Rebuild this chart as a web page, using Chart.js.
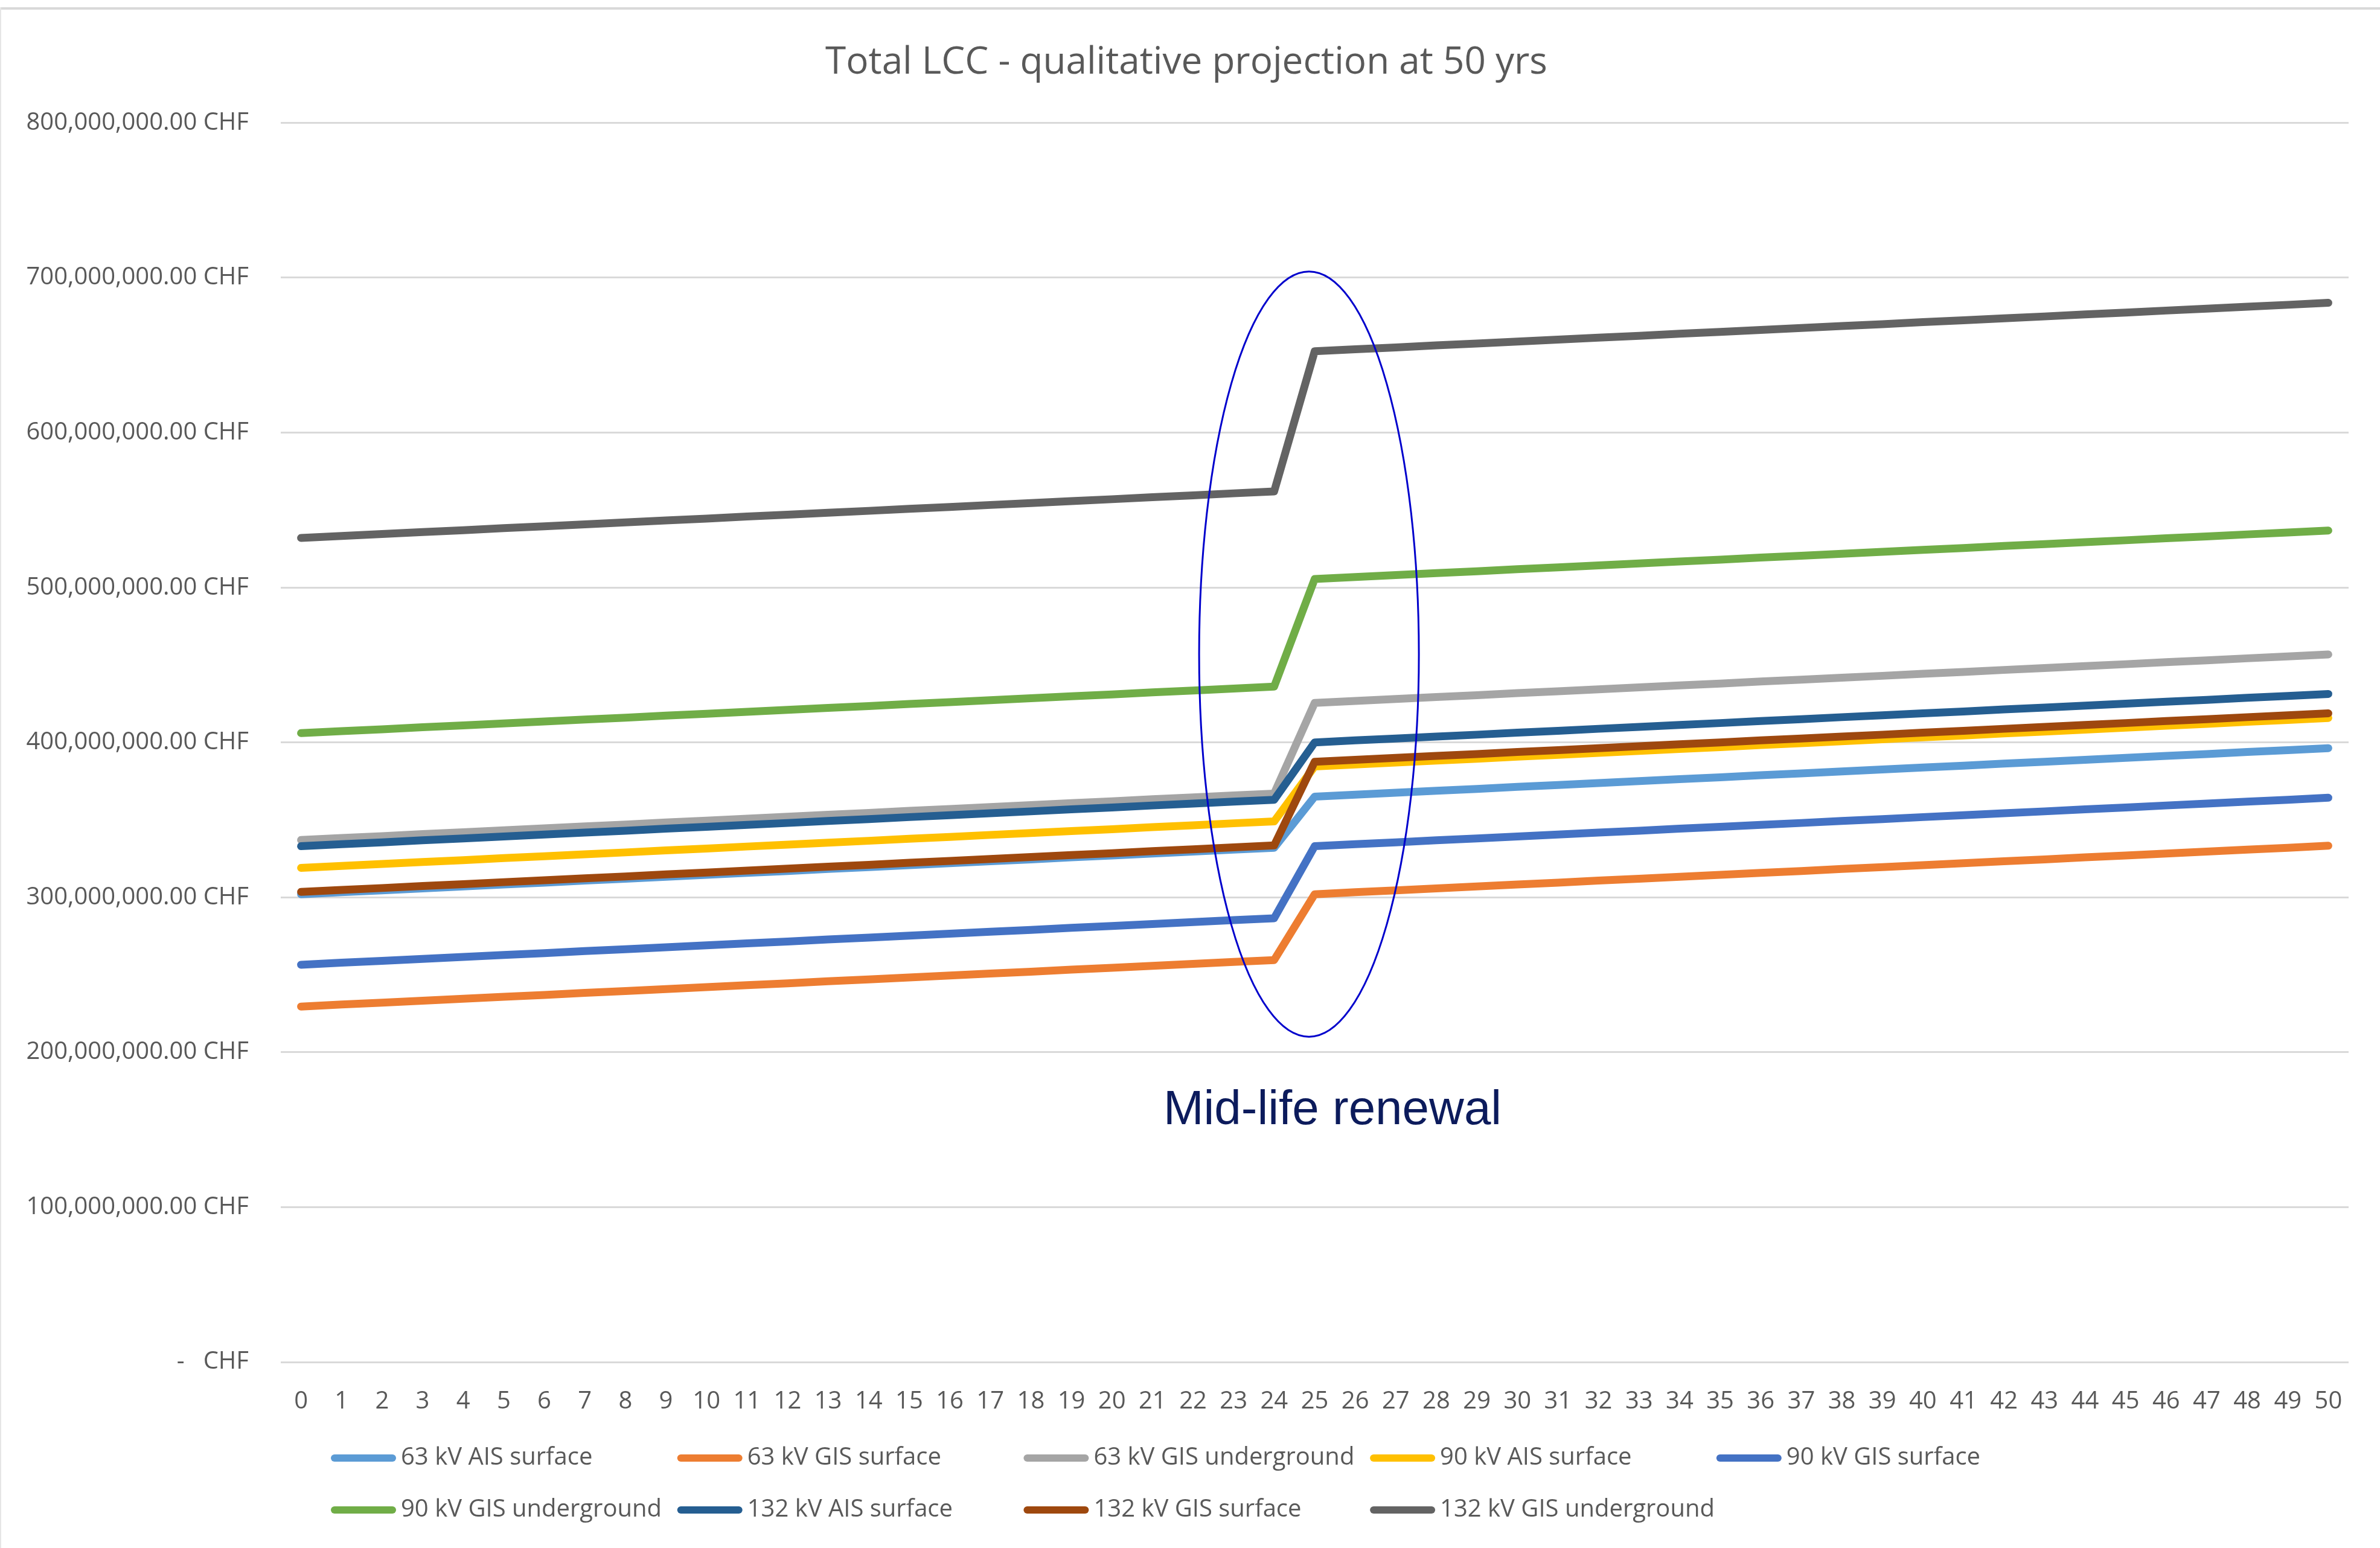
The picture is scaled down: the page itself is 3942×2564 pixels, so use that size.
<!DOCTYPE html>
<html>
<head>
<meta charset="utf-8">
<title>Total LCC - qualitative projection at 50 yrs</title>
<script src="https://cdn.jsdelivr.net/npm/chart.js@4.4.1/dist/chart.umd.min.js"></script>
<style>
  html, body { margin: 0; padding: 0; background: #ffffff; }
  #wrap { position: relative; width: 3942px; height: 2564px; }
</style>
</head>
<body>
<div id="wrap"><canvas id="lcc"></canvas></div>
<script>
// Years of operation
const years = ['0','1','2','3','4','5','6','7','8','9','10','11','12','13','14','15','16','17','18','19',
  '20','21','22','23','24','25','26','27','28','29','30','31','32','33','34','35','36','37','38','39',
  '40','41','42','43','44','45','46','47','48','49','50'];

// Y-axis labels, from 0 to 800 million CHF
const yTickLabels = ['-   CHF', '100,000,000.00 CHF', '200,000,000.00 CHF', '300,000,000.00 CHF',
  '400,000,000.00 CHF', '500,000,000.00 CHF', '600,000,000.00 CHF', '700,000,000.00 CHF', '800,000,000.00 CHF'];

const seriesNames = ['63 kV AIS surface', '63 kV GIS surface', '63 kV GIS underground', '90 kV AIS surface',
  '90 kV GIS surface', '90 kV GIS underground', '132 kV AIS surface', '132 kV GIS surface', '132 kV GIS underground'];

const seriesColors = ['#5B9BD5', '#ED7D31', '#A5A5A5', '#FFC000', '#4472C4', '#70AD47', '#255E91', '#9E480E', '#636363'];

// Cumulative life-cycle cost per year, millions of CHF
const lcc63AisSurface = [302.0, 303.3, 304.5, 305.8, 307.0, 308.3, 309.5, 310.8, 312.0, 313.3, 314.5, 315.8, 317.0,
  318.3, 319.5, 320.8, 322.0, 323.3, 324.5, 325.8, 327.0, 328.3, 329.5, 330.8, 332.0,
  365.0, 366.3, 367.5, 368.8, 370.0, 371.3, 372.5, 373.8, 375.0, 376.3, 377.5, 378.8, 380.0,
  381.3, 382.5, 383.8, 385.0, 386.3, 387.5, 388.8, 390.0, 391.3, 392.5, 393.8, 395.0, 396.3];

const lcc63GisSurface = [229.5, 230.8, 232.0, 233.3, 234.5, 235.8, 237.0, 238.3, 239.5, 240.8, 242.0, 243.3, 244.5,
  245.8, 247.0, 248.3, 249.5, 250.8, 252.0, 253.3, 254.5, 255.8, 257.0, 258.3, 259.5,
  302.0, 303.3, 304.5, 305.8, 307.0, 308.3, 309.5, 310.8, 312.0, 313.3, 314.5, 315.8, 317.0,
  318.3, 319.5, 320.8, 322.0, 323.3, 324.5, 325.8, 327.0, 328.3, 329.5, 330.8, 332.0, 333.3];

const lcc63GisUnderground = [337.0, 338.3, 339.5, 340.8, 342.0, 343.3, 344.5, 345.8, 347.0, 348.3, 349.5, 350.8, 352.0,
  353.3, 354.5, 355.8, 357.0, 358.3, 359.5, 360.8, 362.0, 363.3, 364.5, 365.8, 367.0,
  425.5, 426.8, 428.0, 429.3, 430.5, 431.8, 433.0, 434.3, 435.5, 436.8, 438.0, 439.3, 440.5,
  441.8, 443.0, 444.3, 445.5, 446.8, 448.0, 449.3, 450.5, 451.8, 453.0, 454.3, 455.5, 456.8];

const lcc90AisSurface = [319.0, 320.3, 321.5, 322.8, 324.0, 325.3, 326.5, 327.8, 329.0, 330.3, 331.5, 332.8, 334.0,
  335.3, 336.5, 337.8, 339.0, 340.3, 341.5, 342.8, 344.0, 345.3, 346.5, 347.8, 349.0,
  384.5, 385.8, 387.0, 388.3, 389.5, 390.8, 392.0, 393.3, 394.5, 395.8, 397.0, 398.3, 399.5,
  400.8, 402.0, 403.3, 404.5, 405.8, 407.0, 408.3, 409.5, 410.8, 412.0, 413.3, 414.5, 415.8];

const lcc90GisSurface = [256.5, 257.8, 259.0, 260.3, 261.5, 262.8, 264.0, 265.3, 266.5, 267.8, 269.0, 270.3, 271.5,
  272.8, 274.0, 275.3, 276.5, 277.8, 279.0, 280.3, 281.5, 282.8, 284.0, 285.3, 286.5,
  333.0, 334.3, 335.5, 336.8, 338.0, 339.3, 340.5, 341.8, 343.0, 344.3, 345.5, 346.8, 348.0,
  349.3, 350.5, 351.8, 353.0, 354.3, 355.5, 356.8, 358.0, 359.3, 360.5, 361.8, 363.0, 364.3];

const lcc90GisUnderground = [406.0, 407.3, 408.5, 409.8, 411.0, 412.3, 413.5, 414.8, 416.0, 417.3, 418.5, 419.8, 421.0,
  422.3, 423.5, 424.8, 426.0, 427.3, 428.5, 429.8, 431.0, 432.3, 433.5, 434.8, 436.0,
  505.5, 506.8, 508.0, 509.3, 510.5, 511.8, 513.0, 514.3, 515.5, 516.8, 518.0, 519.3, 520.5,
  521.8, 523.0, 524.3, 525.5, 526.8, 528.0, 529.3, 530.5, 531.8, 533.0, 534.3, 535.5, 536.8];

const lcc132AisSurface = [333.0, 334.3, 335.5, 336.8, 338.0, 339.3, 340.5, 341.8, 343.0, 344.3, 345.5, 346.8, 348.0,
  349.3, 350.5, 351.8, 353.0, 354.3, 355.5, 356.8, 358.0, 359.3, 360.5, 361.8, 363.0,
  400.0, 401.3, 402.5, 403.8, 405.0, 406.3, 407.5, 408.8, 410.0, 411.3, 412.5, 413.8, 415.0,
  416.3, 417.5, 418.8, 420.0, 421.3, 422.5, 423.8, 425.0, 426.3, 427.5, 428.8, 430.0, 431.3];

const lcc132GisSurface = [303.5, 304.8, 306.0, 307.3, 308.5, 309.8, 311.0, 312.3, 313.5, 314.8, 316.0, 317.3, 318.5,
  319.8, 321.0, 322.3, 323.5, 324.8, 326.0, 327.3, 328.5, 329.8, 331.0, 332.3, 333.5,
  387.5, 388.8, 390.0, 391.3, 392.5, 393.8, 395.0, 396.3, 397.5, 398.8, 400.0, 401.3, 402.5,
  403.8, 405.0, 406.3, 407.5, 408.8, 410.0, 411.3, 412.5, 413.8, 415.0, 416.3, 417.5, 418.8];

const lcc132GisUnderground = [532.0, 533.3, 534.5, 535.8, 537.0, 538.3, 539.5, 540.8, 542.0, 543.3, 544.5, 545.8, 547.0,
  548.3, 549.5, 550.8, 552.0, 553.3, 554.5, 555.8, 557.0, 558.3, 559.5, 560.8, 562.0,
  652.5, 653.8, 655.0, 656.3, 657.5, 658.8, 660.0, 661.3, 662.5, 663.8, 665.0, 666.3, 667.5,
  668.8, 670.0, 671.3, 672.5, 673.8, 675.0, 676.3, 677.5, 678.8, 680.0, 681.3, 682.5, 683.8];

const seriesValues = [lcc63AisSurface, lcc63GisSurface, lcc63GisUnderground, lcc90AisSurface, lcc90GisSurface,
  lcc90GisUnderground, lcc132AisSurface, lcc132GisSurface, lcc132GisUnderground];

// Mid-life renewal callout, placed in axis units (category index, CHF)
const renewalNote = 'Mid-life renewal';

const TEXT_GREY = '#595959';
const GRID_GREY = '#D9D9D9';
const UI_FONT = '"Open Sans", "Noto Sans", sans-serif';

const datasets = seriesValues.map((vals, i) => ({
  label: seriesNames[i],
  data: vals.map(v => v * 1e6),
  borderColor: seriesColors[i],
  backgroundColor: seriesColors[i],
  borderWidth: 13,
  borderCapStyle: 'round',
  borderJoinStyle: 'round',
  pointRadius: 0,
  pointHoverRadius: 0,
  tension: 0,
  fill: false,
  // later series are painted over earlier ones
  order: seriesValues.length - i
}));

// Chart frame: top rule and faint left edge
const framePlugin = {
  id: 'frame',
  beforeDraw(chart) {
    const ctx = chart.ctx;
    ctx.save();
    ctx.fillStyle = '#ffffff';
    ctx.fillRect(0, 0, chart.width, chart.height);
    ctx.fillStyle = GRID_GREY;
    ctx.fillRect(0, 12, chart.width, 4);
    ctx.fillStyle = '#E6E6E6';
    ctx.fillRect(0, 12, 2, chart.height - 12);
    ctx.restore();
  }
};

// Ellipse around the renewal step and its caption
const renewalPlugin = {
  id: 'renewal',
  afterDatasetsDraw(chart) {
    const xs = chart.scales.x, ys = chart.scales.y;
    const step = xs.getPixelForValue(1) - xs.getPixelForValue(0);
    const cx = xs.getPixelForValue(24.86);
    const cy = ys.getPixelForValue(457e6);
    const rx = 2.71 * step;
    const ry = ys.getPixelForValue(210e6) - cy;
    const ctx = chart.ctx;
    ctx.save();
    ctx.beginPath();
    ctx.ellipse(cx, cy, rx, ry, 0, 0, Math.PI * 2);
    ctx.strokeStyle = '#0000CC';
    ctx.lineWidth = 3;
    ctx.stroke();
    ctx.fillStyle = '#0C1B5C';
    ctx.font = '80px "Liberation Sans", Arial, sans-serif';
    ctx.textAlign = 'center';
    ctx.textBaseline = 'middle';
    ctx.fillText(renewalNote, xs.getPixelForValue(25.44), ys.getPixelForValue(162e6));
    ctx.restore();
  }
};

// Legend laid out in fixed-width columns, two rows
const columnLegendPlugin = {
  id: 'columnLegend',
  afterDraw(chart, args, opts) {
    const ctx = chart.ctx;
    ctx.save();
    ctx.font = '40px ' + UI_FONT;
    ctx.textBaseline = 'middle';
    ctx.textAlign = 'left';
    chart.data.datasets.forEach((ds, i) => {
      const row = Math.floor(i / opts.perRow);
      const col = i % opts.perRow;
      const x = opts.left + col * opts.colWidth;
      const y = opts.rowY[row];
      ctx.beginPath();
      ctx.moveTo(x + 6, y);
      ctx.lineTo(x + opts.swatch - 6, y);
      ctx.strokeStyle = ds.borderColor;
      ctx.lineWidth = 12;
      ctx.lineCap = 'round';
      ctx.stroke();
      ctx.fillStyle = TEXT_GREY;
      ctx.fillText(ds.label, x + opts.swatch + 8, y);
    });
    ctx.restore();
  }
};

new Chart(document.getElementById('lcc'), {
  type: 'line',
  data: { labels: years, datasets },
  plugins: [framePlugin, renewalPlugin, columnLegendPlugin],
  options: {
    responsive: true,
    maintainAspectRatio: false,
    devicePixelRatio: 1,
    animation: false,
    events: [],
    layout: { padding: { left: 40, right: 52, top: 0, bottom: 176 } },
    plugins: {
      legend: { display: false },
      tooltip: { enabled: false },
      title: {
        display: true,
        text: 'Total LCC - qualitative projection at 50 yrs',
        color: TEXT_GREY,
        font: { family: UI_FONT, size: 62, weight: 'normal' },
        padding: { top: 67, bottom: 62 }
      },
      columnLegend: { left: 548, colWidth: 573.7, perRow: 5, swatch: 108, rowY: [2415, 2501] }
    },
    scales: {
      x: {
        type: 'category',
        offset: true,
        grid: { display: false, drawTicks: false },
        border: { display: false },
        ticks: {
          color: TEXT_GREY,
          font: { family: UI_FONT, size: 40 },
          padding: 42,
          maxRotation: 0,
          minRotation: 0,
          autoSkip: false
        }
      },
      y: {
        min: 0,
        max: 800e6,
        grid: { color: GRID_GREY, lineWidth: 3, drawTicks: false },
        border: { display: false },
        afterFit(scale) { scale.width = 425; },
        ticks: {
          stepSize: 100e6,
          color: TEXT_GREY,
          font: { family: UI_FONT, size: 40 },
          padding: 53,
          callback: (value, index) => yTickLabels[index]
        }
      }
    }
  }
});
</script>
</body>
</html>
